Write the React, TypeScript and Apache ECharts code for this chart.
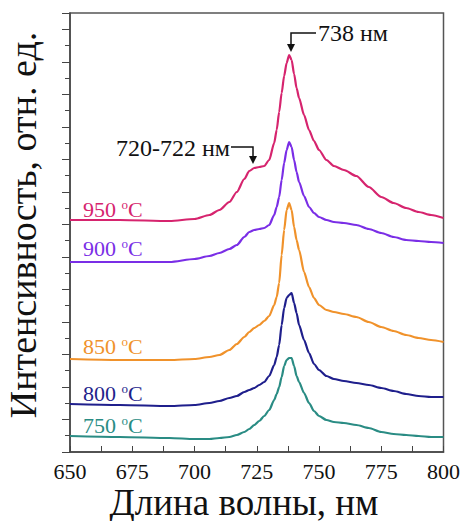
import React, { useEffect, useRef } from "react";
import * as echarts from "echarts";

const wavelengths = [650, 670, 690, 700, 706, 710, 714, 717, 720, 722, 724, 726, 728, 730, 732, 733, 734, 735, 736, 737, 738, 739, 740, 741, 742, 744, 746, 748, 750, 753, 756, 760, 765, 770, 775, 780, 785, 790, 795, 800];

const i950 = [232, 232, 231, 233, 237, 242, 250, 260, 273, 281, 284, 285, 286, 292, 309, 322, 340, 359, 376, 389, 397, 392, 378, 364, 354, 337, 322, 311, 302, 292, 286, 282, 276, 265, 255, 249, 244, 240, 237, 234];
const i900 = [190, 190, 190, 193, 196, 199, 203, 207, 215, 220, 222, 223, 224, 227, 237, 245, 255, 272, 289, 302, 310, 305, 292, 280, 270, 256, 245, 239, 235, 232, 230, 229, 227, 223, 219, 215, 212, 211, 210, 209];
const i850 = [93, 92, 92, 93, 95, 97, 102, 108, 115, 120, 124, 127, 131, 136, 147, 155, 169, 197, 222, 242, 249, 242, 225, 212, 202, 180, 165, 154, 147, 142, 140, 138, 135, 130, 125, 121, 117, 114, 112, 110];
const i800 = [48, 47, 46, 47, 49, 51, 54, 56, 60, 62, 64, 67, 70, 76, 87, 95, 107, 127, 144, 154, 157, 159, 149, 139, 127, 112, 99, 88, 82, 76, 73, 71, 69, 67, 64, 61, 58, 56, 55, 55];
const i750 = [16, 15, 14, 13, 13, 14, 15, 17, 20, 23, 27, 31, 36, 42, 52, 58, 65, 75, 86, 92, 94, 94, 86, 76, 70, 59, 49, 41, 36, 32, 30, 29, 27, 24, 20, 18, 17, 16, 15, 15];

const temps = ["950", "900", "850", "800", "750"];
const colors = ["#d6246e", "#7a2ee6", "#f0922b", "#1f1f8c", "#2a8c84"];
const seriesData = [i950, i900, i850, i800, i750];
const labelY = [209, 248, 346, 393, 425];

const FONT = "Liberation Serif";

export default function App() {
  const ref = useRef<HTMLDivElement>(null);
  useEffect(() => {
    if (!ref.current) return;
    const chart = echarts.init(ref.current, null, { renderer: "svg" });
    const series = seriesData.map((arr, k) => ({
      type: "line",
      name: temps[k],
      data: wavelengths.map((w, i) => [w, arr[i]]),
      showSymbol: false,
      smooth: 0.25,
      smoothMonotone: "x",
      lineStyle: { color: colors[k], width: 2.2 },
      itemStyle: { color: colors[k] },
    }));
    const tempLabels = temps.map((t, k) => ({
      type: "text",
      x: 83,
      y: labelY[k],
      style: {
        text: t + " {s|o}C",
        rich: { s: { fontSize: 13, verticalAlign: "top", padding: [0, 0, 8, 0], fill: colors[k], fontFamily: FONT } },
        fontSize: 22,
        fontFamily: FONT,
        fill: colors[k],
        verticalAlign: "middle",
      },
    }));
    chart.setOption({
      animation: false,
      backgroundColor: "#fff",
      grid: { left: 70, top: 13, right: 18, bottom: 69, show: true, borderColor: "#555", borderWidth: 1.5 },
      xAxis: {
        type: "value",
        min: 650,
        max: 800,
        interval: 25,
        axisLine: { lineStyle: { color: "#444", width: 1.5 } },
        axisTick: { inside: true, length: 6, lineStyle: { color: "#444" } },
        minorTick: { show: true, splitNumber: 2, length: 6, lineStyle: { color: "#444" } },
        splitLine: { show: false },
        axisLabel: { fontSize: 22, fontFamily: FONT, color: "#111", margin: 8 },
      },
      yAxis: {
        type: "value",
        min: 0,
        max: 439,
        interval: 32.52,
        axisLine: { show: true, lineStyle: { color: "#444", width: 1.5 } },
        axisTick: { show: true, inside: false, length: 8, lineStyle: { color: "#444" } },
        minorTick: { show: true, splitNumber: 2, length: 5, lineStyle: { color: "#444" } },
        splitLine: { show: false },
        axisLabel: { show: false },
      },
      series,
      graphic: [
        ...tempLabels,
        {
          type: "text",
          x: 244,
          y: 502,
          style: { text: "Длина волны, нм", fontSize: 37, fontFamily: FONT, fill: "#111", align: "center", verticalAlign: "middle" },
        },
        {
          type: "text",
          x: 23,
          y: 225,
          rotation: Math.PI / 2,
          style: { text: "Интенсивность, отн. ед.", fontSize: 38, fontFamily: FONT, fill: "#111", align: "center", verticalAlign: "middle" },
        },
        {
          type: "text",
          x: 318,
          y: 33,
          style: { text: "738 нм", fontSize: 24, fontFamily: FONT, fill: "#111", verticalAlign: "middle" },
        },
        { type: "polyline", shape: { points: [[316, 33], [291, 33], [291, 46]] }, style: { stroke: "#111", lineWidth: 1.5, fill: null } },
        { type: "polygon", shape: { points: [[287, 44], [295, 44], [291, 52]] }, style: { fill: "#111" } },
        {
          type: "text",
          x: 230,
          y: 148,
          style: { text: "720-722 нм", fontSize: 24, fontFamily: FONT, fill: "#111", align: "right", verticalAlign: "middle" },
        },
        { type: "polyline", shape: { points: [[231, 147], [253, 147], [253, 158]] }, style: { stroke: "#111", lineWidth: 1.5, fill: null } },
        { type: "polygon", shape: { points: [[249, 156], [257, 156], [253, 164]] }, style: { fill: "#111" } },
      ],
    });
    return () => chart.dispose();
  }, []);
  return <div ref={ref} style={{ position: "absolute", left: 0, top: 0, width: 463, height: 521, background: "#fff" }} />;
}
